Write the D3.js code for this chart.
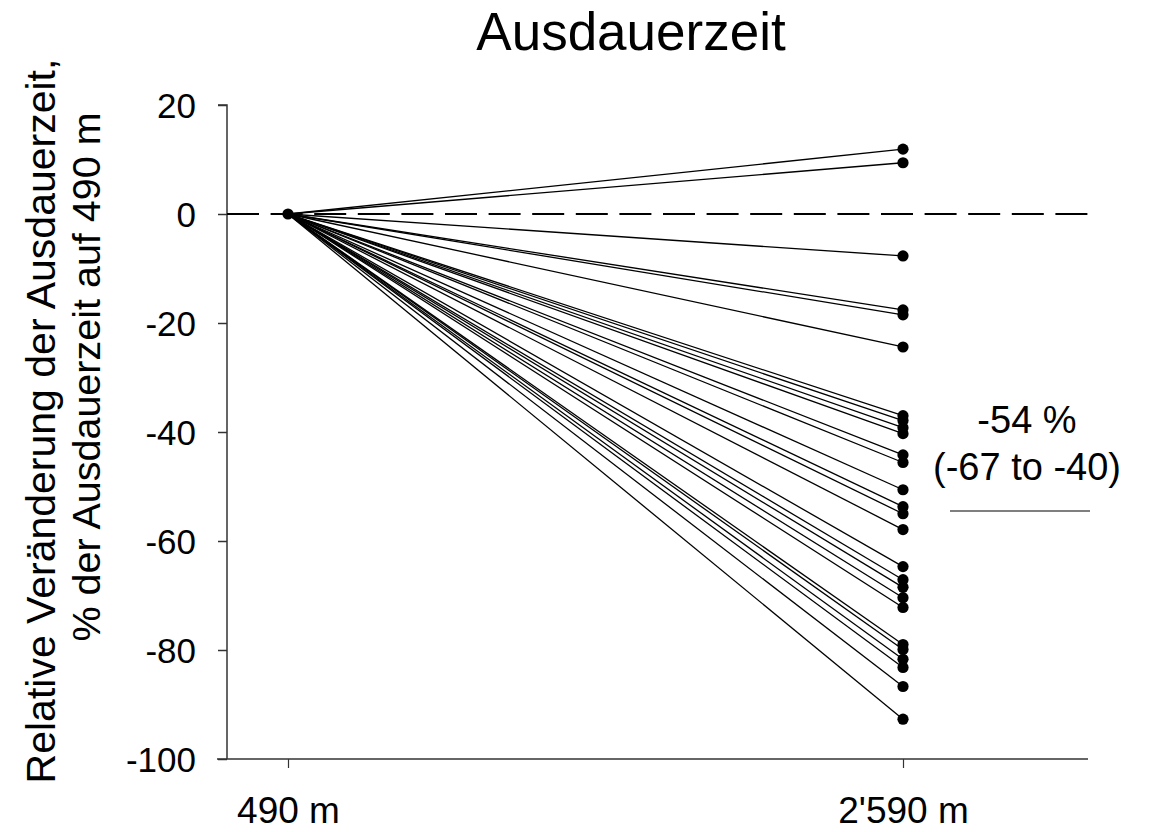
<!DOCTYPE html>
<html><head><meta charset="utf-8">
<script src="https://cdn.jsdelivr.net/npm/d3@7"></script>
<style>body{margin:0;background:#fff}svg{display:block;font-family:"Liberation Sans",Arial,sans-serif}</style>
</head><body>
<svg id="c" width="1153" height="832"></svg>
<script>
const categories = ["490 m", "2'590 m"];
const baselineValues = [0];
const endValues = [11.9, 9.4, -7.7, -17.6, -18.5, -24.4, -37.0, -37.9, -39.2, -40.3, -44.2, -45.6, -50.6, -53.7, -55.0, -57.9, -64.7, -67.1, -68.5, -70.4, -72.2, -79.0, -79.9, -81.7, -83.2, -86.7, -92.7];
const yTicks = [20, 0, -20, -40, -60, -80, -100];
const title = "Ausdauerzeit";
const yLabelLines = ["Relative Veränderung der Ausdauerzeit,", "% der Ausdauerzeit auf 490 m"];
const annotationLines = ["-54 %", "(-67 to -40)"];

const FONT = "Liberation Sans, Arial, sans-serif";
const svg = d3.select("#c");
const x = d3.scalePoint().domain(categories).range([288, 903]);
const y = d3.scaleLinear().domain([-100, 20]).range([759, 105]);

// title
svg.append("text").attr("x", 631).attr("y", 50).attr("text-anchor", "middle")
  .attr("font-size", 53).text(title);

// y axis
const yAxis = d3.axisLeft(y).tickValues(yTicks).tickSize(9).tickPadding(22).tickFormat(d => String(d));
const gy = svg.append("g").attr("transform", "translate(227,0)").call(yAxis);
gy.select(".domain").attr("stroke", "#333").attr("stroke-width", 1.5).attr("d", `M-9,${y(20)}H0V${y(-100)}`);
gy.selectAll(".tick line").attr("stroke", "#333").attr("stroke-width", 1.5);
gy.selectAll(".tick text").attr("font-size", 35).attr("fill", "#000").attr("font-family", FONT).attr("dy", "0.36em");

// x axis
const xAxis = d3.axisBottom(x).tickSize(9).tickPadding(22);
const gx = svg.append("g").attr("transform", `translate(0,${y(-100)})`).call(xAxis);
gx.select(".domain").attr("stroke", "#333").attr("stroke-width", 1.5).attr("d", "M217,0H1088");
gx.selectAll(".tick line").attr("stroke", "#333").attr("stroke-width", 1.2);
gx.selectAll(".tick text").attr("font-size", 37).attr("fill", "#000").attr("font-family", FONT).attr("y", 64).attr("dy", 0);

// zero dashed line
svg.append("line").attr("x1", 227).attr("x2", 1088).attr("y1", y(0)).attr("y2", y(0))
  .attr("stroke", "#000").attr("stroke-width", 2).attr("stroke-dasharray", "32,11.6");

// y label
const yLabelPos = [{c: 421, b: 55, s: 41}, {c: 377, b: 100, s: 39.5}];
yLabelLines.forEach((t, i) => {
  svg.append("text").attr("transform", `translate(${yLabelPos[i].b},${yLabelPos[i].c}) rotate(-90)`)
    .attr("text-anchor", "middle").attr("font-size", yLabelPos[i].s).text(t);
});

// lines
const g = svg.append("g");
endValues.forEach(v => {
  g.append("line").attr("x1", x(categories[0])).attr("y1", y(baselineValues[0]))
    .attr("x2", x(categories[1])).attr("y2", y(v)).attr("stroke", "#000").attr("stroke-width", 1.3);
});
endValues.forEach(v => {
  g.append("circle").attr("cx", x(categories[1])).attr("cy", y(v)).attr("r", 5.6).attr("fill", "#000");
});
g.append("circle").attr("cx", x(categories[0])).attr("cy", y(baselineValues[0])).attr("r", 5.6).attr("fill", "#000");

// annotation
const annY = [433, 480];
annotationLines.forEach((t, i) => {
  svg.append("text").attr("x", 1027).attr("y", annY[i]).attr("text-anchor", "middle").attr("font-size", 38).text(t);
});
svg.append("line").attr("x1", 950).attr("x2", 1090).attr("y1", 511).attr("y2", 511).attr("stroke", "#555").attr("stroke-width", 1.5);
</script>
</body></html>
